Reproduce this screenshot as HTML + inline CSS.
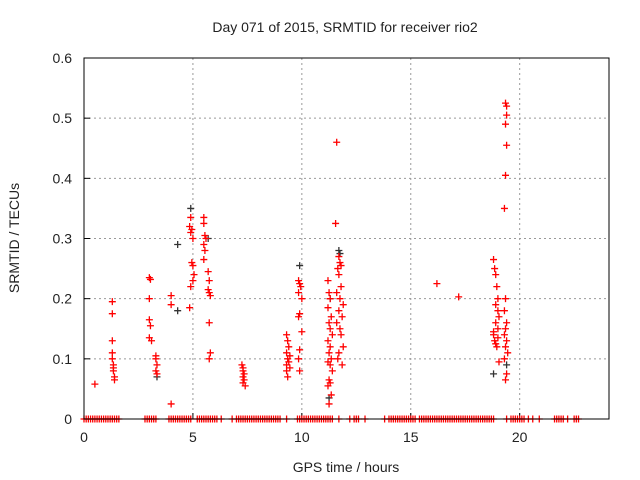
<!DOCTYPE html>
<html><head><meta charset="utf-8"><style>
body{margin:0;background:#fff}
svg{display:block;font-family:"Liberation Sans",sans-serif}
</style></head><body>
<svg id="c" width="640" height="480">
<text x="345" y="32" text-anchor="middle" font-size="14" fill="#222">Day 071 of 2015, SRMTID for receiver rio2</text>
<text x="346" y="472" text-anchor="middle" font-size="14" fill="#222">GPS time / hours</text>
<text transform="translate(19,238) rotate(-90)" text-anchor="middle" font-size="14" fill="#222">SRMTID / TECUs</text>
<g id="grid"></g><g id="ticks"></g><g id="marks"></g>
<rect x="84" y="58" width="525" height="361" fill="none" stroke="#000" stroke-width="1"/>
</svg>
<script>
const xTicks=[0,5,10,15,20];
const yTicks=[0,0.1,0.2,0.3,0.4,0.5,0.6];
const yTickLabels=["0","0.1","0.2","0.3","0.4","0.5","0.6"];
const redHours=[0.5,1.3,1.3,1.3,1.3,1.3,1.35,1.35,1.35,1.4,1.4,
3.0,3.05,3.0,3.0,3.05,3.0,3.1,3.3,3.3,3.35,3.3,3.35,4.0,4.0,4.0,
4.85,4.9,4.95,4.9,5.0,4.95,5.0,5.05,5.0,4.9,4.85,
5.5,5.5,5.55,5.6,5.5,5.55,5.5,5.7,5.75,5.7,5.75,5.8,5.75,5.8,5.75,
7.25,7.3,7.3,7.35,7.3,7.35,7.3,7.4,
9.3,9.35,9.4,9.3,9.45,9.35,9.4,9.3,9.45,9.3,9.35,
9.85,9.9,9.95,9.85,10.0,9.9,9.85,10.0,9.9,9.85,9.9,
11.2,11.25,11.3,11.2,11.35,11.25,11.3,11.4,11.2,11.3,11.25,11.35,11.2,11.3,11.4,11.25,11.3,11.2,11.35,11.25,
11.6,11.55,11.7,11.75,11.8,11.65,11.7,11.8,11.6,11.75,11.9,11.7,11.85,11.6,11.75,11.8,11.9,11.7,11.65,11.85,
16.2,17.2,
18.8,18.85,18.9,18.95,19.0,18.9,19.0,19.05,18.9,19.0,18.8,18.85,18.9,18.95,19.0,19.05,18.8,
19.35,19.4,19.4,19.35,19.4,19.35,19.3,19.35,19.3,19.4,19.35,19.3,19.4,19.35,19.3,19.4,19.35,19.45];
const redValues=[0.058,0.195,0.175,0.13,0.11,0.1,0.09,0.085,0.08,0.07,0.065,
0.235,0.232,0.2,0.165,0.155,0.135,0.13,0.105,0.1,0.09,0.08,0.075,0.205,0.19,0.025,
0.32,0.335,0.315,0.31,0.3,0.26,0.255,0.24,0.23,0.22,0.185,
0.335,0.325,0.305,0.3,0.29,0.28,0.265,0.245,0.23,0.215,0.21,0.205,0.16,0.11,0.1,
0.09,0.085,0.08,0.075,0.07,0.065,0.06,0.055,
0.14,0.13,0.12,0.11,0.105,0.1,0.095,0.09,0.085,0.08,0.07,
0.23,0.225,0.22,0.21,0.2,0.175,0.17,0.145,0.115,0.1,0.08,
0.23,0.21,0.2,0.185,0.17,0.16,0.15,0.14,0.13,0.12,0.11,0.1,0.095,0.09,0.08,0.065,0.06,0.055,0.04,0.025,
0.46,0.325,0.27,0.26,0.255,0.25,0.24,0.22,0.21,0.2,0.19,0.18,0.17,0.16,0.15,0.14,0.12,0.11,0.1,0.09,
0.225,0.203,
0.265,0.25,0.24,0.22,0.2,0.19,0.18,0.17,0.16,0.15,0.14,0.13,0.125,0.12,0.135,0.095,0.145,
0.525,0.52,0.505,0.49,0.455,0.405,0.35,0.2,0.18,0.16,0.15,0.14,0.13,0.12,0.1,0.075,0.065,0.11];
const blackHours=[4.3,4.3,4.9,5.7,9.9,11.25,11.3,11.7,11.75,18.8,19.4,3.35];
const blackValues=[0.29,0.18,0.35,0.3,0.255,0.035,0.2,0.28,0.275,0.075,0.09,0.07];
const zeroHours=[0.0,0.1,0.2,0.3,0.4,0.5,0.6,0.7,0.8,0.9,1.0,1.1,1.2,1.3,1.4,1.5,1.6,2.8,2.9,3.0,3.1,3.2,3.3,3.9,4.0,4.1,4.2,4.3,4.4,4.5,4.6,4.7,4.8,4.9,5.2,5.3,5.4,5.5,5.6,5.7,5.8,5.9,6.0,6.1,6.3,6.8,7.0,7.1,7.2,7.3,7.4,7.5,7.6,7.7,7.8,7.9,8.0,8.1,8.2,8.3,8.4,8.5,8.6,8.7,8.8,8.9,9.0,9.3,9.8,9.9,10.0,10.1,10.2,10.3,10.4,10.5,10.6,10.7,10.8,10.9,11.0,11.1,11.2,11.3,11.4,11.7,12.2,12.4,12.5,12.6,12.9,13.8,14.0,14.1,14.2,14.3,14.4,14.5,14.6,14.7,14.8,14.9,15.0,15.1,15.2,15.4,15.5,15.6,15.7,15.8,15.9,16.0,16.1,16.2,16.3,16.4,16.5,16.6,16.7,16.8,16.9,17.0,17.1,17.2,17.3,17.4,17.5,17.6,17.7,17.8,17.9,18.0,18.1,18.2,18.3,18.4,18.5,18.6,18.7,18.8,19.4,19.6,19.7,19.8,19.9,20.0,20.1,20.2,20.4,20.6,20.9,21.6,21.7,21.8,21.9,22.0,22.2,22.5,22.6,22.7];
const X0=84,X1=609,Y0=419,Y1=58,XMAX=24.1,YMAX=0.6;
const xs=h=>X0+(X1-X0)*h/XMAX;
const ys=v=>Y0-(Y0-Y1)*v/YMAX;
const NS="http://www.w3.org/2000/svg";
function mk(tag,attrs,parent){const e=document.createElementNS(NS,tag);for(const k in attrs)e.setAttribute(k,attrs[k]);parent.appendChild(e);return e;}
const grid=document.getElementById('grid'),ticks=document.getElementById('ticks'),marks=document.getElementById('marks');
xTicks.forEach((t,i)=>{const x=xs(t);
 if(t>0){const g=mk('line',{x1:x,x2:x,y1:Y1,y2:Y0,stroke:'#999','stroke-dasharray':'2,3'},grid);
 
 }
 const tk=mk('line',{x1:x,x2:x,y1:Y0,y2:Y0-6,stroke:'#000'},ticks);
 
 
 const l=mk('text',{x:x,y:Y0+23,'text-anchor':'middle','font-size':14,fill:'#222'},ticks);l.textContent=String(t);
 
 });
yTicks.forEach((t,i)=>{const y=ys(t);
 if(t>0&&t<0.6){const g=mk('line',{x1:X0,x2:X1,y1:y,y2:y,stroke:'#999','stroke-dasharray':'2,3'},grid);
 
 }
 const tk=mk('line',{x1:X0,x2:X0+6,y1:y,y2:y,stroke:'#000'},ticks);
 
 
 const l=mk('text',{x:X0-12,y:y+5,'text-anchor':'end','font-size':14,fill:'#222'},ticks);l.textContent=yTickLabels[i];
 
 });
function plus(h,v,color,name){const x=xs(h),y=ys(v);
 const p=mk('path',{d:`M${x-3.5},${y}H${x+3.5}M${x},${y-3.5}V${y+3.5}`,stroke:color,'stroke-width':1.3,fill:'none'},marks);
 
 }
blackHours.forEach((h,i)=>plus(h,blackValues[i],'#333','black-point'));
zeroHours.forEach(h=>plus(h,0,'#f00','zero-point'));
redHours.forEach((h,i)=>plus(h,redValues[i],'#f00','red-point'));
</script>
</body></html>
